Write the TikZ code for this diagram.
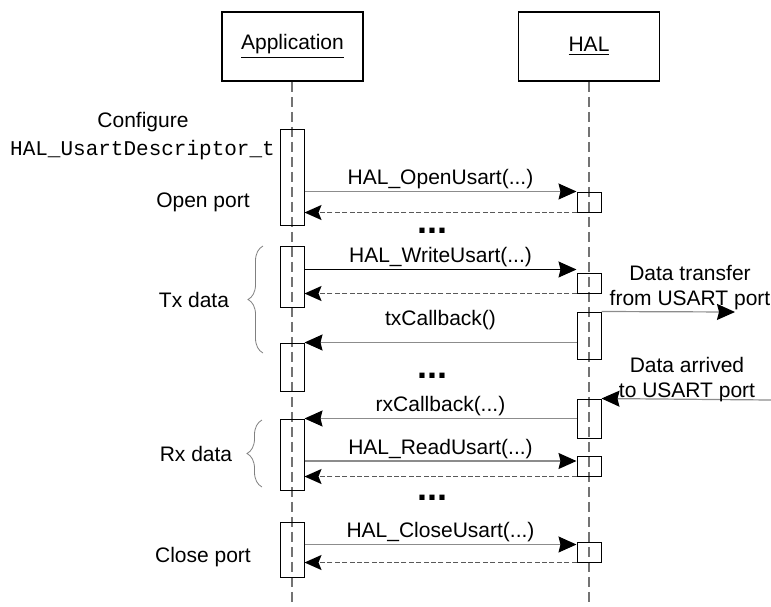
\documentclass[tikz,border=0pt]{standalone}
\usepackage{fontspec}
\setmainfont{Liberation Sans}
\setmonofont{Liberation Mono}
\usetikzlibrary{arrows.meta, decorations.pathreplacing}

\begin{document}
\begin{tikzpicture}[x=0.5pt, y=-0.5pt,
        font=\fontsize{10.5}{12.5}\selectfont,
        objbox/.style={draw, line width=0.8pt, minimum width=70.5pt, minimum height=34.5pt},
        lifeline/.style={draw=black!55, line width=1pt, dash pattern=on 5pt off 2.5pt},
        actbar/.style={draw, line width=0.5pt, minimum width=12pt, inner sep=0pt},
        call/.style={draw=black!45, line width=0.6pt, -{Stealth[length=9pt, width=8pt, inset=1pt, color=black]}},
        reply/.style={draw=black!65, line width=0.7pt, dash pattern=on 2.5pt off 1.2pt, -{Stealth[length=8.5pt, width=7.5pt, inset=1.5pt, color=black]}},
        msg/.style={above=1pt, inner sep=0pt},
        dots/.style={font=\fontsize{18}{18}\selectfont\bfseries},
        group/.style={draw=black!50, line width=0.4pt, decorate, decoration={brace, amplitude=7.5pt}}]
        \useasboundingbox (0,0) rectangle (771,606);

        % objects and lifelines
        \node[objbox] (app) at (292.5,46.5) {\underline{Application}};
        \node[objbox] (hal) at (589,46.5) {\underline{HAL}};
        \coordinate (appbot) at (292,606);
        \coordinate (halbot) at (589,606);
        \draw[lifeline] (app.south -| appbot) -- (appbot);
        \draw[lifeline] (hal.south -| halbot) -- (halbot);

        % activation bars
        \node[actbar, minimum height=48pt]   (a1) at (292,177) {};
        \node[actbar, minimum height=30.5pt] (a2) at (292,276.5) {};
        \node[actbar, minimum height=24pt]   (a3) at (292,367) {};
        \node[actbar, minimum height=35.5pt] (a4) at (292,454.5) {};
        \node[actbar, minimum height=27.5pt] (a5) at (292,549.5) {};
        \node[actbar, minimum height=10pt]   (h1) at (589,202) {};
        \node[actbar, minimum height=10pt]   (h2) at (589,283) {};
        \node[actbar, minimum height=23.5pt] (h3) at (589,335.5) {};
        \node[actbar, minimum height=19.5pt] (h4) at (589,418.5) {};
        \node[actbar, minimum height=10pt]   (h5) at (589,466) {};
        \node[actbar, minimum height=10pt]   (h6) at (589,552) {};

        % left side texts
        \node (cfg) at (143,122) {Configure};
        \node (cfgtype) at (142.5,150) {\texttt{HAL\_UsartDescriptor\_t}};
        \node (openlbl) at (203,202) {Open port};
        \node (txlbl) at (194,300) {Tx data};
        \node (rxlbl) at (196,454) {Rx data};
        \node (closelbl) at (203,557) {Close port};
        \draw[group] (263,353) -- (263,246);
        \draw[group] (262,487) -- (262,420);

        % arrow ends that sit a bit off the bar corners
        \coordinate (w2) at ([yshift=1.5pt]h2.north west);
        \coordinate (r5) at ([yshift=2.5pt]h5.west);
        \coordinate (c6) at ([yshift=-1.5pt]h6.north west);

        % open
        \draw[call] (a1.east |- h1.north west) -- (h1.north west) node[midway, msg] {HAL\_OpenUsart(...)};
        \draw[reply] (h1.south west) -- (a1.east |- h1.south west);
        \node[dots] (dots1) at (432,231) {...};

        % write
        \draw[call, draw=black] (a2.east |- w2) -- (w2) node[midway, msg] {HAL\_WriteUsart(...)};
        \draw[reply] (h2.south west) -- (a2.east |- h2.south west);
        \coordinate (txout) at (735,312);
        \draw[call] (h3.north east) -- (txout);
        \node[align=center] (txinfo) at (690,287.5) {Data transfer\\from USART port};
        \draw[call] (h3.west |- a3.north east) -- (a3.north east) node[midway, msg, above=5pt] {txCallback()};
        \node[dots] (dots2) at (432,376) {...};

        % read
        \coordinate (rxin) at (771,400);
        \draw[call] (rxin) -- (h4.north east);
        \node[align=center] (rxinfo) at (687,379.5) {Data arrived\\to USART port};
        \draw[call] (h4.west |- a4.north east) -- (a4.north east) node[midway, msg] {rxCallback(...)};
        \draw[call] (a4.east |- r5) -- (r5) node[midway, msg] {HAL\_ReadUsart(...)};
        \draw[reply] (h5.south west) -- (a4.east |- h5.south west);
        \node[dots] (dots3) at (432,498) {...};

        % close
        \draw[call] (a5.east |- c6) -- (c6) node[midway, msg] {HAL\_CloseUsart(...)};
        \draw[reply] (h6.south west) -- (a5.east |- h6.south west);
    \end{tikzpicture}
\end{document}
